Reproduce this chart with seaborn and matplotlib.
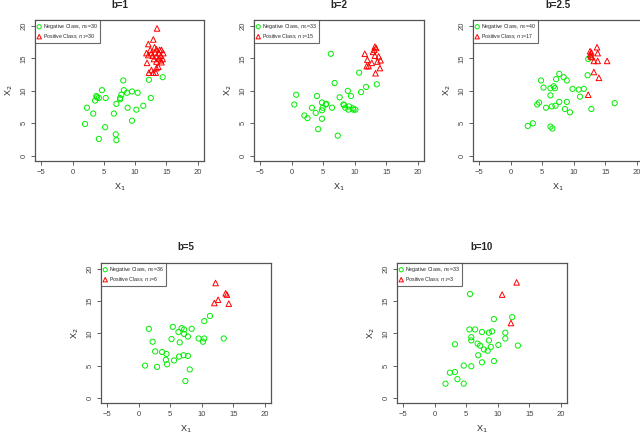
import numpy as np
import pandas as pd
import matplotlib
matplotlib.use("Agg")
import matplotlib.pyplot as plt
import seaborn as sns

# b=1
neg1_x = [8.1, 14.4, 12.2, 4.7, 8.2, 9.5, 8.7, 10.4, 3.8, 4.2, 5.3, 7.8, 7.6, 3.6, 12.5,
          7.0, 2.3, 8.8, 11.3, 10.2, 3.3, 6.6, 2.0, 5.2, 9.5, 6.9, 4.2, 7.0, 7.6, 3.9]
neg1_y = [11.6, 12.1, 11.7, 10.1, 10.1, 9.9, 9.7, 9.7, 9.2, 8.9, 8.9, 9.4, 8.9, 8.5, 8.9,
          8.0, 7.4, 7.4, 7.7, 7.1, 6.5, 6.5, 4.9, 4.4, 5.4, 3.3, 2.6, 2.4, 8.7, 9.0]
pos1_x = [13.5, 12.9, 12.1, 13.1, 12.4, 13.4, 13.9, 14.2, 11.8, 12.6, 13.2, 13.8, 14.5, 12.1, 12.8,
          13.4, 14.1, 13.0, 13.8, 14.4, 11.9, 13.4, 14.2, 13.7, 13.4, 12.6, 12.2, 12.9, 13.3, 14.1]
pos1_y = [19.6, 17.9, 17.2, 16.7, 16.3, 16.4, 16.3, 16.3, 15.8, 15.8, 15.9, 15.8, 15.8, 15.5, 15.4,
          15.3, 15.4, 14.9, 15.0, 14.9, 14.3, 14.5, 14.4, 13.7, 13.5, 13.2, 12.8, 12.8, 12.8, 14.7]

# b=2
neg2_x = [6.2, 10.7, 6.8, 13.5, 11.8, 8.9, 11.0, 0.7, 4.0, 9.4, 7.6, 4.8, 5.4, 0.4, 8.2, 9.1,
          3.2, 4.9, 6.4, 8.5, 9.0, 9.8, 10.1, 4.8, 3.8, 2.0, 2.5, 4.8, 4.2, 7.3, 8.3, 5.5, 9.7]
neg2_y = [15.7, 12.8, 11.2, 11.0, 10.6, 10.0, 9.8, 9.4, 9.2, 9.2, 9.0, 8.2, 7.9, 7.9, 7.9, 7.6,
          7.4, 7.4, 7.4, 7.4, 7.1, 7.1, 7.1, 7.0, 6.6, 6.2, 5.8, 5.7, 4.1, 3.1, 7.8, 8.0, 7.3]
pos2_x = [13.2, 13.4, 13.1, 11.6, 13.2, 13.8, 12.0, 13.6, 14.1, 12.7, 11.9, 12.2, 14.0, 13.3, 12.9]
pos2_y = [16.8, 16.6, 16.3, 15.7, 15.4, 15.3, 14.8, 14.5, 14.7, 14.3, 13.8, 13.8, 13.5, 12.7, 16.0]

# b=2.5
neg3_x = [12.3, 12.2, 7.7, 8.4, 4.8, 7.2, 8.9, 5.2, 6.8, 6.3, 9.8, 10.8, 11.6, 6.3, 11.0, 4.5,
          4.2, 7.7, 8.9, 16.5, 5.6, 6.5, 7.1, 8.6, 12.8, 9.4, 2.7, 3.5, 6.3, 6.6, 7.0]
neg3_y = [14.9, 12.4, 12.6, 12.1, 11.6, 11.8, 11.6, 10.5, 10.7, 10.4, 10.3, 10.2, 10.3, 9.3, 9.1, 8.2,
          7.9, 8.3, 8.3, 8.1, 7.4, 7.6, 7.7, 7.2, 7.2, 6.7, 4.6, 5.0, 4.5, 4.2, 10.4]
pos3_x = [13.7, 12.6, 13.8, 12.8, 12.6, 12.9, 13.2, 13.8, 15.3, 13.2, 14.0, 12.3, 12.7]
pos3_y = [16.7, 16.1, 15.8, 15.9, 15.6, 15.2, 14.6, 14.6, 14.6, 12.9, 12.0, 9.4, 15.3]

# b=5
neg4_x = [11.3, 10.4, 1.6, 5.4, 6.8, 7.2, 8.4, 6.3, 7.2, 7.8, 5.2, 9.5, 10.4, 10.2, 13.5,
          2.2, 6.5, 2.6, 3.7, 4.4, 6.4, 7.1, 7.8, 4.3, 4.5, 5.6, 1.0, 2.9, 8.1, 7.4]
neg4_y = [12.7, 11.9, 10.7, 11.0, 10.8, 10.6, 10.7, 10.2, 9.9, 9.5, 9.1, 9.2, 9.2, 8.7, 9.2,
          8.7, 8.6, 7.2, 7.1, 6.8, 6.4, 6.6, 6.5, 5.9, 5.2, 5.8, 5.0, 4.8, 4.4, 2.6]
pos4_x = [12.2, 13.8, 14.0, 12.6, 12.0, 14.3]
pos4_y = [17.8, 16.2, 16.0, 15.2, 14.7, 14.6]

# b=10
neg5_x = [5.6, 9.4, 12.3, 5.5, 6.4, 7.5, 9.1, 8.6, 11.2, 5.8, 11.2, 5.8, 8.6, 6.8, 7.2, 3.2,
          8.9, 10.1, 13.2, 7.8, 8.4, 6.9, 7.5, 9.4, 4.6, 5.8, 3.2, 2.4, 3.6, 1.7, 4.6]
neg5_y = [16.1, 12.2, 12.5, 10.6, 10.6, 10.2, 10.3, 10.1, 10.1, 9.4, 9.2, 8.9, 8.9, 8.4, 8.1, 8.3,
          7.9, 8.2, 8.1, 7.5, 7.3, 6.6, 5.5, 5.7, 5.0, 4.9, 4.0, 3.9, 2.9, 2.2, 2.2]
pos5_x = [13.0, 10.7, 12.1]
pos5_y = [17.9, 16.0, 11.6]

titles = ["b=1", "b=2", "b=2.5", "b=5", "b=10"]
neg_labels = ["Negative Class, $n_0$=30", "Negative Class, $n_0$=33", "Negative Class, $n_0$=40",
              "Negative Class, $n_0$=36", "Negative Class, $n_0$=33"]
pos_labels = ["Positive Class, $n_1$=30", "Positive Class, $n_1$=15", "Positive Class, $n_1$=17",
              "Positive Class, $n_1$=6", "Positive Class, $n_1$=3"]

panels = [(neg1_x, neg1_y, pos1_x, pos1_y), (neg2_x, neg2_y, pos2_x, pos2_y),
          (neg3_x, neg3_y, pos3_x, pos3_y), (neg4_x, neg4_y, pos4_x, pos4_y),
          (neg5_x, neg5_y, pos5_x, pos5_y)]

sns.set_style("ticks")
plt.rcParams['font.family'] = ['Liberation Sans', 'DejaVu Sans']

W, H = 640, 438
fig = plt.figure(figsize=(6.4, 4.38), dpi=100)
# pixel boxes (left, top, right, bottom)
boxes = [(35, 20, 204, 161), (254, 20, 424, 161), (473, 20, 643, 161),
         (101, 263, 271, 403), (397, 263, 567, 403)]

green = "#00ee00"
red = "#ff0000"
for (l, t, r, b), title, nl, pl, (nx, ny, px, py) in zip(boxes, titles, neg_labels, pos_labels, panels):
    ax = fig.add_axes([l / W, 1 - b / H, (r - l) / W, (b - t) / H])
    neg = pd.DataFrame({"x": nx, "y": ny})
    pos = pd.DataFrame({"x": px, "y": py})
    sns.scatterplot(data=neg, x="x", y="y", ax=ax, marker="o", s=14, facecolor="none",
                    edgecolor=green, linewidth=0.7, label=nl)
    sns.scatterplot(data=pos, x="x", y="y", ax=ax, marker="^", s=16, facecolor="none",
                    edgecolor=red, linewidth=0.7, label=pl)
    ax.set_xlim(-6, 21)
    ax.set_ylim(-0.8, 20.9)
    ax.set_xticks([-5, 0, 5, 10, 15, 20])
    ax.set_yticks([0, 5, 10, 15, 20])
    ax.tick_params(labelsize=5.5, length=3, width=0.6, colors="#444444", pad=2.5)
    plt.setp(ax.get_yticklabels(), rotation=90, va="center")
    for sp in ax.spines.values():
        sp.set_visible(True)
        sp.set_color("#555555")
        sp.set_linewidth(0.9)
    ax.set_xlabel("X$_1$", fontsize=6.5, labelpad=4)
    ax.set_ylabel("X$_2$", fontsize=6.5, labelpad=4)
    ax.set_title(title, fontsize=7, fontweight="bold", pad=9)
    leg = ax.legend(loc="upper left", fontsize=3.8, borderaxespad=0, frameon=True,
                    fancybox=False, handletextpad=0.3, borderpad=0.4, labelspacing=0.2,
                    handlelength=0.8, markerscale=0.8)
    leg.get_frame().set_edgecolor("#444444")
    leg.get_frame().set_linewidth(0.8)

fig.savefig("out.png", dpi=100)
